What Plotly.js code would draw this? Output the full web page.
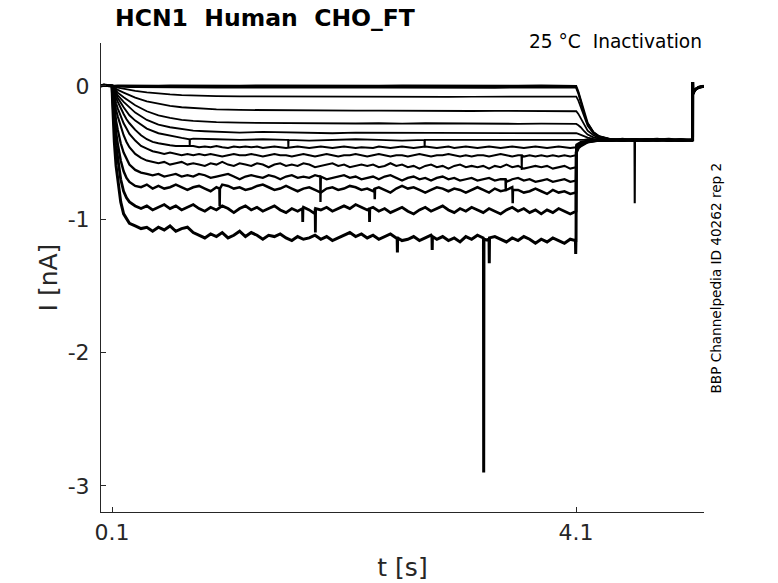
<!DOCTYPE html>
<html>
<head>
<meta charset="utf-8">
<script src="https://cdn.plot.ly/plotly-3.0.1.min.js"></script>
<style>html,body{margin:0;padding:0;background:#fff;}#chart{width:778px;height:583px;}</style>
</head>
<body>
<div id="chart"></div>
<script>
// ---- time grids (s) ----
const tPre = [0.005, 0.03, 0.06, 0.095];
const iPre = [0.0, 0.006, 0.003, 0.0];
const tCoarse = [0.1, 0.105, 0.12, 0.15, 0.2, 0.25, 0.3, 0.4, 0.5, 0.6, 0.7, 0.8, 0.9, 1.0,
  1.2, 1.4, 1.6, 1.8, 2.0, 2.2, 2.4, 2.6, 2.8, 3.0, 3.2, 3.4, 3.6, 3.8, 4.0, 4.1];
const tFine = [0.1, 0.105, 0.11, 0.12, 0.135, 0.15, 0.175, 0.2, 0.225, 0.25,
  0.3, 0.35, 0.4, 0.45, 0.5, 0.55, 0.6, 0.65, 0.7, 0.75,
  0.8, 0.85, 0.9, 0.95, 1.0, 1.05, 1.1, 1.15, 1.2, 1.25,
  1.3, 1.35, 1.4, 1.45, 1.5, 1.55, 1.6, 1.65, 1.7, 1.75,
  1.8, 1.85, 1.9, 1.95, 2.0, 2.05, 2.1, 2.15, 2.2, 2.25,
  2.3, 2.35, 2.4, 2.45, 2.5, 2.55, 2.6, 2.65, 2.7, 2.75,
  2.8, 2.85, 2.9, 2.95, 3.0, 3.05, 3.1, 3.15, 3.2, 3.25,
  3.3, 3.35, 3.4, 3.45, 3.5, 3.55, 3.6, 3.65, 3.7, 3.75,
  3.8, 3.85, 3.9, 3.95, 4.0, 4.05, 4.1];
const tTail = [4.102, 4.12, 4.14, 4.17, 4.2, 4.25, 4.3, 4.4, 4.5, 4.6, 4.7, 4.8, 4.9, 5.0, 5.1, 5.105];
const tEnd = [5.106, 5.108, 5.115, 5.13, 5.16, 5.2];
const iEnd = [0.03, -0.06, -0.045, -0.025, -0.01, -0.003];

// ---- currents during the 4 s step (nA) ----
const step1 = [0, 0.004, 0.003, 0.005, 0.004, 0.003, 0.005, 0.004, 0.003, 0.005, 0.004, 0.003, 0.005, 0.004, 0.003,
  0.005, 0.004, 0.003, 0.005, 0.004, 0.003, 0.005, 0.004, 0.003, 0.005, 0.004, 0.003, 0.005, 0.004, 0.003];
const step2 = [0, -0.001, -0.002, -0.003, -0.004, -0.005, -0.004, -0.005, -0.004, -0.005, -0.004, -0.005, -0.004, -0.005, -0.004,
  -0.005, -0.004, -0.005, -0.004, -0.005, -0.004, -0.005, -0.004, -0.005, -0.004, -0.005, -0.004, -0.005, -0.004, -0.005];
const step3 = [0, -0.001, -0.003, -0.005, -0.007, -0.009, -0.01, -0.011, -0.012, -0.012, -0.013, -0.012, -0.013, -0.012, -0.013,
  -0.012, -0.013, -0.014, -0.013, -0.012, -0.013, -0.014, -0.013, -0.012, -0.013, -0.014, -0.013, -0.012, -0.013, -0.013];
const step4 = [0, -0.002, -0.006, -0.013, -0.022, -0.03, -0.037, -0.049, -0.058, -0.064, -0.069, -0.072, -0.074, -0.076, -0.078,
  -0.079, -0.08, -0.08, -0.081, -0.08, -0.081, -0.082, -0.081, -0.082, -0.081, -0.082, -0.083, -0.082, -0.083, -0.082];
const step5 = [0, -0.003, -0.012, -0.03, -0.05, -0.07, -0.088, -0.115, -0.135, -0.15, -0.16, -0.167, -0.172, -0.176, -0.18,
  -0.182, -0.184, -0.183, -0.185, -0.186, -0.185, -0.187, -0.186, -0.187, -0.188, -0.187, -0.188, -0.187, -0.189, -0.188];
const step6 = [0, -0.005, -0.02, -0.05, -0.085, -0.115, -0.145, -0.19, -0.22, -0.24, -0.255, -0.262, -0.268, -0.272, -0.276,
  -0.278, -0.28, -0.282, -0.28, -0.282, -0.28, -0.283, -0.28, -0.282, -0.284, -0.282, -0.284, -0.283, -0.285, -0.284];
const step7 = [0, -0.007, -0.03, -0.07, -0.12, -0.16, -0.2, -0.255, -0.29, -0.31, -0.325, -0.335, -0.34, -0.345, -0.35,
  -0.345, -0.35, -0.35, -0.355, -0.35, -0.35, -0.355, -0.35, -0.35, -0.355, -0.35, -0.355, -0.35, -0.355, -0.355];
const step8 = [0, -0.01, -0.04, -0.09, -0.16, -0.22, -0.26, -0.32, -0.355, -0.375, -0.39, -0.395, -0.4, -0.4, -0.405,
  -0.4, -0.405, -0.41, -0.405, -0.4, -0.405, -0.41, -0.405, -0.405, -0.41, -0.405, -0.41, -0.405, -0.41, -0.405];
const step9 = [0, -0.015, -0.03, -0.055, -0.09, -0.12, -0.17, -0.21, -0.25, -0.28,
  -0.33, -0.37, -0.4, -0.42, -0.43, -0.44, -0.445, -0.45, -0.45, -0.455,
  -0.45, -0.46, -0.455, -0.46, -0.45, -0.46, -0.465, -0.455, -0.46, -0.455,
  -0.46, -0.455, -0.465, -0.46, -0.455, -0.46, -0.465, -0.46, -0.455, -0.46,
  -0.465, -0.46, -0.455, -0.46, -0.465, -0.46, -0.455, -0.46, -0.465, -0.46,
  -0.46, -0.465, -0.455, -0.46, -0.465, -0.46, -0.455, -0.46, -0.465, -0.46,
  -0.455, -0.46, -0.465, -0.46, -0.455, -0.465, -0.46, -0.455, -0.46, -0.465,
  -0.46, -0.455, -0.46, -0.465, -0.46, -0.455, -0.46, -0.465, -0.46, -0.455,
  -0.46, -0.465, -0.46, -0.455, -0.46, -0.465, -0.46];
const step10 = [0, -0.02, -0.04, -0.08, -0.13, -0.17, -0.23, -0.28, -0.32, -0.36,
  -0.41, -0.45, -0.47, -0.49, -0.5, -0.51, -0.5, -0.51, -0.52, -0.51,
  -0.52, -0.51, -0.52, -0.51, -0.52, -0.53, -0.52, -0.51, -0.52, -0.52,
  -0.51, -0.52, -0.53, -0.52, -0.51, -0.52, -0.52, -0.53, -0.52, -0.51,
  -0.52, -0.53, -0.52, -0.51, -0.52, -0.53, -0.52, -0.52, -0.51, -0.52,
  -0.53, -0.52, -0.51, -0.52, -0.53, -0.52, -0.52, -0.53, -0.52, -0.51,
  -0.52, -0.53, -0.52, -0.52, -0.51, -0.52, -0.53, -0.52, -0.53, -0.52,
  -0.52, -0.53, -0.52, -0.51, -0.52, -0.53, -0.52, -0.53, -0.52, -0.53,
  -0.52, -0.53, -0.52, -0.53, -0.52, -0.53, -0.52];
const step11 = [0, -0.03, -0.06, -0.11, -0.18, -0.23, -0.31, -0.37, -0.42, -0.46,
  -0.51, -0.54, -0.56, -0.57, -0.58, -0.57, -0.59, -0.58, -0.57, -0.59,
  -0.58, -0.59, -0.6, -0.58, -0.59, -0.57, -0.59, -0.6, -0.58, -0.59,
  -0.6, -0.58, -0.59, -0.61, -0.59, -0.58, -0.6, -0.59, -0.6, -0.58,
  -0.59, -0.61, -0.6, -0.59, -0.58, -0.6, -0.59, -0.61, -0.6, -0.59,
  -0.6, -0.59, -0.61, -0.6, -0.58, -0.6, -0.59, -0.61, -0.6, -0.62,
  -0.6, -0.59, -0.61, -0.6, -0.62, -0.6, -0.59, -0.61, -0.6, -0.61,
  -0.6, -0.62, -0.6, -0.61, -0.59, -0.61, -0.6, -0.62, -0.61, -0.6,
  -0.61, -0.6, -0.62, -0.61, -0.6, -0.62, -0.61];
const step12 = [0, -0.04, -0.08, -0.16, -0.26, -0.33, -0.43, -0.5, -0.55, -0.59,
  -0.63, -0.65, -0.66, -0.67, -0.66, -0.68, -0.67, -0.66, -0.68, -0.67,
  -0.68, -0.66, -0.67, -0.69, -0.68, -0.67, -0.66, -0.68, -0.7, -0.68,
  -0.67, -0.68, -0.69, -0.67, -0.68, -0.7, -0.68, -0.67, -0.69, -0.68,
  -0.69, -0.67, -0.68, -0.7, -0.69, -0.68, -0.67, -0.69, -0.68, -0.7,
  -0.69, -0.68, -0.7, -0.68, -0.67, -0.69, -0.71, -0.69, -0.68, -0.7,
  -0.69, -0.71, -0.69, -0.68, -0.7, -0.69, -0.71, -0.7, -0.69, -0.71,
  -0.7, -0.69, -0.71, -0.7, -0.72, -0.7, -0.69, -0.71, -0.7, -0.72,
  -0.71, -0.7, -0.72, -0.71, -0.7, -0.72, -0.71];
const step13 = [0, -0.06, -0.12, -0.23, -0.35, -0.44, -0.56, -0.64, -0.69, -0.72,
  -0.75, -0.76, -0.74, -0.77, -0.75, -0.77, -0.76, -0.74, -0.76, -0.78,
  -0.76, -0.75, -0.77, -0.79, -0.76, -0.74, -0.75, -0.77, -0.76, -0.78,
  -0.77, -0.75, -0.74, -0.76, -0.78, -0.77, -0.75, -0.77, -0.79, -0.77,
  -0.76, -0.78, -0.8, -0.77, -0.76, -0.78, -0.77, -0.75, -0.76, -0.78,
  -0.77, -0.79, -0.76, -0.78, -0.8, -0.77, -0.75, -0.77, -0.76, -0.78,
  -0.8, -0.78, -0.76, -0.77, -0.79, -0.77, -0.78, -0.8, -0.78, -0.76,
  -0.78, -0.8, -0.77, -0.79, -0.78, -0.76, -0.78, -0.8, -0.79, -0.77,
  -0.79, -0.81, -0.78, -0.8, -0.79, -0.81, -0.8];
const step14 = [0, -0.08, -0.16, -0.3, -0.45, -0.56, -0.7, -0.79, -0.84, -0.87,
  -0.9, -0.92, -0.9, -0.93, -0.91, -0.89, -0.92, -0.9, -0.93, -0.91,
  -0.89, -0.92, -0.94, -0.91, -0.93, -0.9, -0.92, -0.95, -0.92, -0.9,
  -0.93, -0.91, -0.94, -0.92, -0.9, -0.93, -0.95, -0.92, -0.94, -0.91,
  -0.93, -0.96, -0.93, -0.91, -0.94, -0.92, -0.9, -0.92, -0.89, -0.91,
  -0.93, -0.91, -0.94, -0.92, -0.95, -0.93, -0.91, -0.94, -0.96, -0.93,
  -0.91, -0.94, -0.92, -0.9, -0.93, -0.95, -0.92, -0.94, -0.91, -0.93,
  -0.95, -0.92, -0.94, -0.96, -0.93, -0.91, -0.94, -0.92, -0.95, -0.93,
  -0.96, -0.93, -0.95, -0.92, -0.94, -0.96, -0.94];
const step15 = [0, -0.12, -0.24, -0.42, -0.6, -0.72, -0.87, -0.96, -1.0, -1.03,
  -1.05, -1.07, -1.06, -1.09, -1.06, -1.08, -1.05, -1.09, -1.07, -1.06,
  -1.1, -1.12, -1.14, -1.11, -1.13, -1.1, -1.14, -1.12, -1.09, -1.13,
  -1.1, -1.12, -1.15, -1.12, -1.13, -1.11, -1.14, -1.16, -1.13, -1.15,
  -1.14, -1.12, -1.15, -1.13, -1.16, -1.14, -1.12, -1.1, -1.13, -1.11,
  -1.14, -1.12, -1.15, -1.13, -1.11, -1.14, -1.16, -1.15, -1.13, -1.16,
  -1.14, -1.12, -1.15, -1.13, -1.16, -1.14, -1.17, -1.13, -1.15, -1.12,
  -1.14, -1.16, -1.13, -1.15, -1.17, -1.14, -1.16, -1.13, -1.15, -1.18,
  -1.15, -1.17, -1.14, -1.16, -1.18, -1.15, -1.17];

// ---- tail currents after the step (nA), on tTail ----
const tail1 = [0.0, -0.04, -0.1, -0.2, -0.275, -0.345, -0.377, -0.398, -0.405, -0.4, -0.41, -0.405, -0.4, -0.41, -0.405, -0.405];
const tail2 = [-0.01, -0.05, -0.11, -0.21, -0.28, -0.348, -0.379, -0.4, -0.41, -0.405, -0.4, -0.41, -0.405, -0.4, -0.41, -0.405];
const tail3 = [-0.02, -0.06, -0.12, -0.215, -0.285, -0.35, -0.38, -0.4, -0.405, -0.41, -0.405, -0.4, -0.41, -0.405, -0.4, -0.405];
const tail4 = [-0.08, -0.11, -0.16, -0.24, -0.3, -0.355, -0.383, -0.4, -0.4, -0.405, -0.41, -0.405, -0.4, -0.405, -0.41, -0.405];
const tail5 = [-0.19, -0.21, -0.24, -0.295, -0.335, -0.37, -0.39, -0.402, -0.405, -0.4, -0.405, -0.41, -0.405, -0.41, -0.4, -0.405];
const tail6 = [-0.285, -0.295, -0.31, -0.34, -0.365, -0.386, -0.396, -0.403, -0.41, -0.405, -0.4, -0.405, -0.41, -0.405, -0.405, -0.405];
const tail7 = [-0.355, -0.36, -0.366, -0.378, -0.388, -0.397, -0.401, -0.405, -0.4, -0.405, -0.41, -0.4, -0.405, -0.41, -0.405, -0.405];
const tail8 = [-0.41, -0.405, -0.41, -0.405, -0.4, -0.405, -0.41, -0.405, -0.41, -0.4, -0.405, -0.41, -0.405, -0.4, -0.405, -0.405];
const tail9 = [-0.44, -0.43, -0.42, -0.415, -0.41, -0.405, -0.41, -0.405, -0.4, -0.41, -0.405, -0.4, -0.41, -0.405, -0.41, -0.405];
const tail10 = [-0.45, -0.44, -0.43, -0.42, -0.412, -0.408, -0.405, -0.41, -0.405, -0.4, -0.41, -0.405, -0.41, -0.4, -0.405, -0.405];
const tail11 = [-0.46, -0.445, -0.435, -0.422, -0.414, -0.408, -0.405, -0.4, -0.41, -0.405, -0.41, -0.405, -0.4, -0.41, -0.405, -0.405];
const tail12 = [-0.47, -0.45, -0.44, -0.425, -0.416, -0.41, -0.405, -0.41, -0.405, -0.41, -0.4, -0.405, -0.41, -0.405, -0.4, -0.405];
const tail13 = [-0.48, -0.455, -0.442, -0.428, -0.418, -0.41, -0.407, -0.405, -0.41, -0.4, -0.405, -0.41, -0.405, -0.41, -0.405, -0.405];
const tail14 = [-0.49, -0.46, -0.445, -0.43, -0.42, -0.412, -0.408, -0.41, -0.4, -0.41, -0.405, -0.4, -0.41, -0.405, -0.41, -0.405];
const tail15 = [-0.5, -0.465, -0.45, -0.432, -0.42, -0.413, -0.408, -0.405, -0.41, -0.405, -0.41, -0.405, -0.4, -0.41, -0.405, -0.405];

// ---- brief spikes ----
const spikeTrace = [8, 8, 8, 12, 12, 13, 13, 13, 10, 14, 14, 14, 15, 15, 15, 15, 15, 11];
const spikeT     = [0.77, 1.62, 2.795, 1.897, 3.494, 1.028, 2.365, 3.554, 3.632, 1.744, 1.853, 2.32, 2.56, 2.86, 3.304, 3.352, 4.097, 4.606];
const spikeI     = [-0.45, -0.46, -0.46, -0.87, -0.79, -0.9, -0.85, -0.88, -0.63, -1.02, -1.1, -1.02, -1.25, -1.23, -2.9, -1.33, -1.26, -0.88];
const spikeBase  = [-0.4, -0.405, -0.405, -0.68, -0.7, -0.77, -0.77, -0.78, -0.52, -0.92, -0.92, -0.92, -1.14, -1.13, -1.15, -1.14, -1.16, -0.405];

const steps = [step1, step2, step3, step4, step5, step6, step7, step8, step9, step10, step11, step12, step13, step14, step15];
const tails = [tail1, tail2, tail3, tail4, tail5, tail6, tail7, tail8, tail9, tail10, tail11, tail12, tail13, tail14, tail15];

const xTickVals = [0.1, 4.1];
const xTickText = ['0.1', '4.1'];
const yTickVals = [-3, -2, -1, 0];
const yTickText = ['-3', '-2', '-1', '0'];

const lineWidths = [1.7, 1.7, 1.7, 1.7, 1.8, 1.8, 1.8, 1.9, 2.0, 2.0, 2.1, 2.3, 2.5, 2.8, 3.0];

const traces = steps.map((step, k) => {
  const tStep = step.length === tFine.length ? tFine : tCoarse;
  const pts = [];
  tPre.forEach((t, i) => pts.push([t, iPre[i]]));
  tStep.forEach((t, i) => pts.push([t, step[i]]));
  tTail.forEach((t, i) => pts.push([t, tails[k][i]]));
  tEnd.forEach((t, i) => pts.push([t, iEnd[i]]));
  spikeTrace.forEach((tr, j) => {
    if (tr === k + 1) {
      pts.push([spikeT[j] - 0.002, spikeBase[j]]);
      pts.push([spikeT[j], spikeI[j]]);
      pts.push([spikeT[j] + 0.002, spikeBase[j]]);
    }
  });
  pts.sort((a, b) => a[0] - b[0]);
  return {
    type: 'scatter', mode: 'lines',
    x: pts.map(p => p[0]), y: pts.map(p => p[1]),
    line: {color: '#000000', width: lineWidths[k]},
    hoverinfo: 'skip', showlegend: false
  };
});

const axisCol = '#262626';
const font = 'DejaVu Sans, Liberation Sans, sans-serif';
const layout = {
  width: 778, height: 583,
  margin: {l: 101, r: 74, t: 43, b: 71, pad: 0},
  paper_bgcolor: '#ffffff', plot_bgcolor: '#ffffff',
  showlegend: false,
  xaxis: {
    range: [0.005, 5.203], tickvals: xTickVals, ticktext: xTickText,
    ticks: 'inside', ticklen: 5, tickwidth: 1, tickcolor: axisCol,
    showline: true, linecolor: axisCol, linewidth: 1, mirror: false,
    showgrid: false, zeroline: false, ticklabelstandoff: 1,
    tickfont: {family: font, size: 22, color: axisCol},
    title: {text: 't [s]', font: {family: font, size: 25, color: axisCol}, standoff: 14}
  },
  yaxis: {
    range: [-3.196, 0.322], tickvals: yTickVals, ticktext: yTickText,
    ticks: 'inside', ticklen: 5, tickwidth: 1, tickcolor: axisCol,
    showline: true, linecolor: axisCol, linewidth: 1, mirror: false,
    showgrid: false, zeroline: false, ticklabelstandoff: 6,
    tickfont: {family: font, size: 22, color: axisCol},
    title: {text: 'I [nA]', font: {family: font, size: 25, color: axisCol}, standoff: 2}
  },
  annotations: [
    {text: 'HCN1\u00a0\u00a0Human\u00a0\u00a0CHO_FT', xref: 'paper', yref: 'paper', x: 0.0196, y: 1.0533,
     xanchor: 'left', yanchor: 'middle', showarrow: false,
     font: {family: font, size: 23.5, color: '#000000', weight: 'bold'}},
    {text: '25 °C\u00a0\u00a0Inactivation', xref: 'paper', yref: 'paper', x: 1.0, y: 1.004,
     xanchor: 'right', yanchor: 'middle', showarrow: false,
     font: {family: font, size: 18.6, color: '#000000'}},
    {text: 'BBP Channelpedia ID 40262 rep 2', xref: 'paper', yref: 'paper', x: 1.0199, y: 0.5,
     xanchor: 'center', yanchor: 'middle', showarrow: false, textangle: -90,
     font: {family: font, size: 13.6, color: '#000000'}}
  ]
};

Plotly.newPlot('chart', traces, layout, {staticPlot: true, displayModeBar: false});
</script>
</body>
</html>
